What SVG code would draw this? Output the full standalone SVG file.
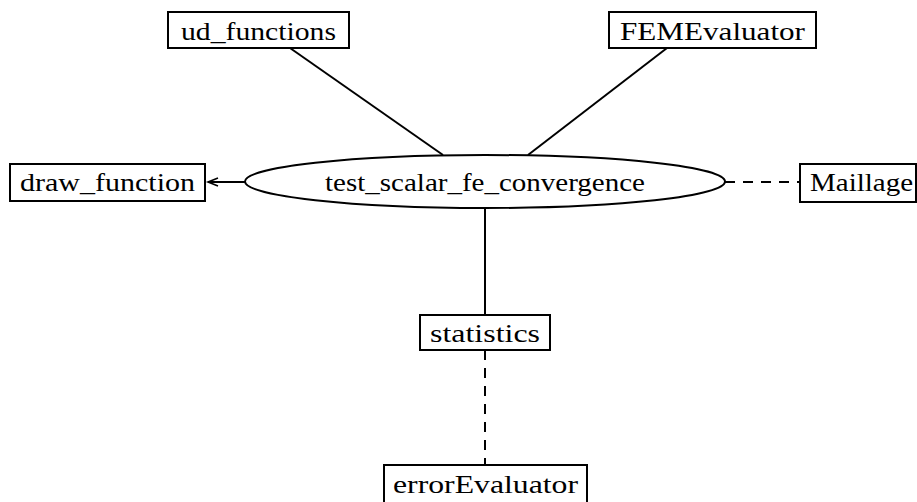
<svg xmlns="http://www.w3.org/2000/svg" width="917" height="502" viewBox="0 0 917 502">
<style>
.box{fill:#fff;stroke:#000;stroke-width:2}
.lbl{font-family:"Liberation Serif","Times New Roman",serif;font-size:25px;fill:#000;text-anchor:middle}
.edge{stroke:#000;stroke-width:2;fill:none}
.dash{stroke-dasharray:10,8}
.head{stroke:#000;stroke-width:1.6;fill:none}
</style>
<g id="connectors">
<line class="edge" x1="290" y1="48" x2="443" y2="155"/>
<line class="edge" x1="667" y1="48" x2="528" y2="155"/>
<line class="edge" x1="245" y1="182" x2="208" y2="182"/>
<polyline class="head" points="218,178 208,182 218,186"/>
<line class="edge dash" x1="725" y1="182" x2="800" y2="182"/>
<line class="edge" x1="485" y1="208" x2="485" y2="315"/>
<line class="edge dash" x1="485" y1="350" x2="485" y2="465"/>
</g>
<g id="ud_functions">
<rect class="box" x="168" y="12" width="181" height="36"/>
<text class="lbl" x="258.5" y="40" textLength="155" lengthAdjust="spacingAndGlyphs">ud_functions</text>
</g>
<g id="FEMEvaluator">
<rect class="box" x="609" y="12" width="207" height="36"/>
<text class="lbl" x="712.5" y="40" textLength="185" lengthAdjust="spacingAndGlyphs">FEMEvaluator</text>
</g>
<g id="draw_function">
<rect class="box" x="10" y="164" width="195" height="37"/>
<text class="lbl" x="107.5" y="191" textLength="175" lengthAdjust="spacingAndGlyphs">draw_function</text>
</g>
<g id="test_scalar_fe_convergence">
<ellipse class="box" cx="485" cy="181.5" rx="240" ry="26.5"/>
<text class="lbl" x="485" y="191" textLength="320" lengthAdjust="spacingAndGlyphs">test_scalar_fe_convergence</text>
</g>
<g id="Maillage">
<rect class="box" x="800" y="164" width="116" height="38"/>
<text class="lbl" x="861.5" y="191" textLength="103" lengthAdjust="spacingAndGlyphs">Maillage</text>
</g>
<g id="statistics">
<rect class="box" x="420" y="315" width="130" height="35"/>
<text class="lbl" x="485" y="342" textLength="110" lengthAdjust="spacingAndGlyphs">statistics</text>
</g>
<g id="errorEvaluator">
<rect class="box" x="384" y="465" width="203" height="40"/>
<text class="lbl" x="485.5" y="493" textLength="185" lengthAdjust="spacingAndGlyphs">errorEvaluator</text>
</g>
</svg>
